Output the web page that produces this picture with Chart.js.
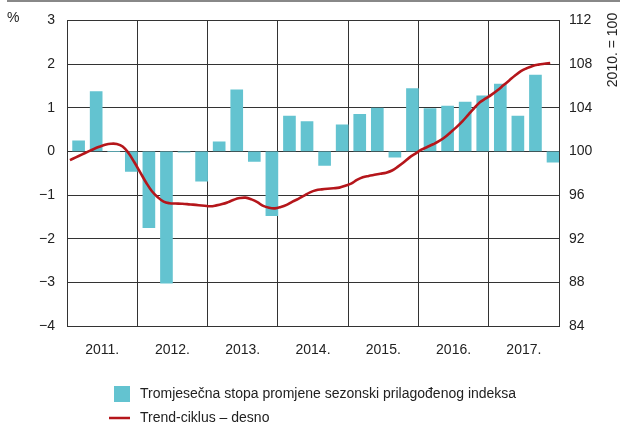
<!DOCTYPE html>
<html>
<head>
<meta charset="utf-8">
<script src="https://cdn.jsdelivr.net/npm/chart.js@4/dist/chart.umd.min.js"></script>
<style>
  html, body { margin: 0; padding: 0; background: #fff; }
  #wrap { width: 623px; height: 427px; position: relative; }
</style>
</head>
<body>
<div id="wrap"><canvas id="myChart" width="623" height="427"></canvas></div>
<script>
'use strict';

// godine (oznake osi x)
const years = ['2011.', '2012.', '2013.', '2014.', '2015.', '2016.', '2017.'];

// tromjesečna stopa promjene, 2011. Q1 ... 2017. Q4 (%)
const quarterRates = [
  0.24, 1.37, 0.00, -0.46,
  -1.75, -3.02, -0.02, -0.68,
  0.22, 1.41, -0.23, -1.47,
  0.81, 0.68, -0.32, 0.61,
  0.85, 0.99, -0.13, 1.44,
  0.98, 1.04, 1.13, 1.27,
  1.54, 0.81, 1.75, -0.25
];

// trend-ciklus, mjesečno od 1/2011 do 11/2017 (2010. = 100)
const trendCycle = [
  99.2, 99.45, 99.7, 99.95, 100.2, 100.42, 100.6, 100.7, 100.68, 100.45, 99.85, 99.0,
  98.08, 97.15, 96.35, 95.8, 95.4, 95.25, 95.22, 95.2, 95.17, 95.12, 95.07, 95.02,
  94.97, 95.05, 95.17, 95.35, 95.57, 95.72, 95.76, 95.6, 95.35, 95.0, 94.83, 94.78,
  94.9, 95.1, 95.4, 95.65, 95.95, 96.24, 96.43, 96.52, 96.58, 96.62, 96.68, 96.85,
  97.05, 97.38, 97.62, 97.75, 97.85, 97.95, 98.05, 98.25, 98.6, 99.0, 99.45, 99.8,
  100.15, 100.4, 100.65, 100.93, 101.3, 101.75, 102.22, 102.75, 103.35, 103.95, 104.5, 104.85,
  105.2, 105.6, 106.05, 106.5, 106.95, 107.35, 107.62, 107.83, 107.95, 108.03, 108.1
];

// ticks
const leftTicks = [-4, -3, -2, -1, 0, 1, 2, 3];
const rightTicks = [84, 88, 92, 96, 100, 104, 108, 112];

const labelBar = 'Tromjesečna stopa promjene sezonski prilagođenog indeksa';
const labelLine = 'Trend-ciklus – desno';

const FONT = "'Liberation Sans', Arial, sans-serif";
const BAR_COLOR = '#63c3d0';
const LINE_COLOR = '#b5161b';
const GRID_COLOR = '#333333';

// x os u kvartalima: kvartal q zauzima [q, q+1]
const barPoints = quarterRates.map((v, q) => ({ x: q + 0.66, y: v }));
const linePoints = trendCycle.map((v, m) => ({ x: (m + 0.5) / 3, y: v }));

const minus = (v) => String(v).replace('-', '\u2212');

// dodatni tekst i legenda
const extras = {
  id: 'extras',
  afterDraw(chart) {
    const c = chart.ctx;
    c.save();
    // gornja linija
    c.strokeStyle = '#888';
    c.lineWidth = 2;
    c.beginPath();
    c.moveTo(7, 1);
    c.lineTo(620, 1);
    c.stroke();

    c.fillStyle = '#222';
    c.font = '14px ' + FONT;
    c.textBaseline = 'middle';
    c.textAlign = 'left';
    c.fillText('%', 7, 18);

    // desna oznaka
    c.save();
    c.translate(613, 50);
    c.rotate(-Math.PI / 2);
    c.textAlign = 'center';
    c.fillText('2010. = 100', 0, 0);
    c.restore();

    // legenda
    c.fillStyle = BAR_COLOR;
    c.fillRect(114, 386, 16, 16);
    c.strokeStyle = LINE_COLOR;
    c.lineWidth = 2.5;
    c.beginPath();
    c.moveTo(109, 418);
    c.lineTo(130, 418);
    c.stroke();
    c.fillStyle = '#222';
    c.font = '14px ' + FONT;
    c.fillText(labelBar, 140, 394);
    c.fillText(labelLine, 140, 418);
    c.restore();
  }
};

const data = {
  datasets: [
    {
      type: 'line',
      label: labelLine,
      data: linePoints,
      yAxisID: 'y2',
      borderColor: LINE_COLOR,
      borderWidth: 2.6,
      pointRadius: 0,
      tension: 0.4,
      order: 0
    },
    {
      type: 'bar',
      label: labelBar,
      data: barPoints,
      yAxisID: 'y',
      backgroundColor: BAR_COLOR,
      barThickness: 12,
      order: 1
    }
  ]
};

const options = {
  responsive: false,
  animation: false,
  layout: { padding: { top: 16, bottom: 61, left: 0, right: 0 } },
  plugins: {
    legend: { display: false },
    tooltip: { enabled: false }
  },
  scales: {
    x: {
      type: 'linear',
      min: 0,
      max: 28,
      offset: false,
      afterFit: (s) => { s.height = 40; },
      afterBuildTicks: (s) => {
        s.ticks = [];
        for (let v = 0; v <= 28; v += 2) s.ticks.push({ value: v });
      },
      ticks: {
        padding: 16,
        color: '#222',
        font: { family: FONT, size: 14 },
        maxRotation: 0,
        autoSkip: false,
        callback: (v) => (v % 4 === 2 ? years[(v - 2) / 4] : '')
      },
      grid: {
        offset: false,
        drawTicks: false,
        color: (ctx) => (ctx.tick && ctx.tick.value % 4 === 0 ? GRID_COLOR : 'rgba(0,0,0,0)'),
        lineWidth: 1
      },
      border: { display: true, color: GRID_COLOR }
    },
    y: {
      position: 'left',
      min: -4,
      max: 3,
      afterFit: (s) => { s.width = 67; },
      afterBuildTicks: (s) => { s.ticks = leftTicks.map((v) => ({ value: v })); },
      ticks: {
        padding: 12,
        color: '#222',
        font: { family: FONT, size: 14 },
        callback: (v) => minus(v)
      },
      grid: { drawTicks: false, color: GRID_COLOR, lineWidth: 1 },
      border: { display: true, color: GRID_COLOR }
    },
    y2: {
      position: 'right',
      min: 84,
      max: 112,
      afterFit: (s) => { s.width = 64; },
      afterBuildTicks: (s) => { s.ticks = rightTicks.map((v) => ({ value: v })); },
      ticks: {
        padding: 10,
        color: '#222',
        font: { family: FONT, size: 14 }
      },
      grid: { display: false, drawTicks: false },
      border: { display: true, color: GRID_COLOR }
    }
  }
};

new Chart(document.getElementById('myChart').getContext('2d'), {
  type: 'bar',
  data: data,
  options: options,
  plugins: [extras]
});
</script>
</body>
</html>
